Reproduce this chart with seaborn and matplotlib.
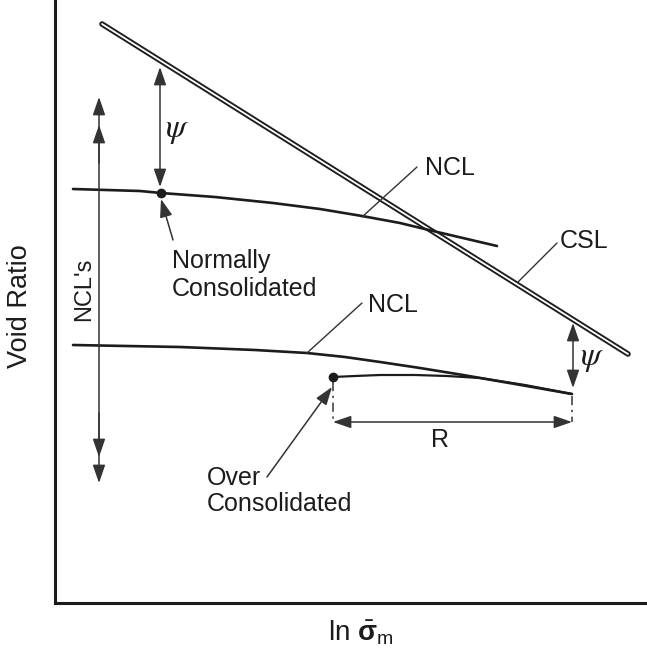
import matplotlib
matplotlib.use("Agg")
import matplotlib.pyplot as plt
import seaborn as sns
import numpy as np

# Schematic void ratio vs ln(mean effective stress) diagram (arbitrary units)
csl_x = [47, 573]
csl_y = [579, 249]

ncl_upper_x = [18, 85, 106, 160, 218, 265, 307, 345, 378, 442]
ncl_upper_y = [414, 412, 410, 406, 400, 394, 387, 380, 372, 357]

ncl_lower_x = [18, 125, 200, 252, 290, 325, 365, 408, 460, 517]
ncl_lower_y = [258, 256, 253, 250, 246, 241, 235, 228, 219, 209]

oc_x = [278, 300, 325, 360, 392, 425, 470, 517]
oc_y = [226, 227, 228, 228, 227, 225, 218, 209]

nc_point = (106, 410)
oc_point = (278, 226)

sns.set_theme(style="white")
plt.rcParams["font.family"] = ["Liberation Sans", "DejaVu Sans"]
plt.rcParams["mathtext.fontset"] = "custom"
plt.rcParams["mathtext.rm"] = "Liberation Sans"
plt.rcParams["mathtext.bf"] = "Liberation Sans:bold"
plt.rcParams["mathtext.it"] = "Liberation Sans:italic"

fig = plt.figure(figsize=(6.47, 6.63), dpi=100)
ax = fig.add_axes([55 / 647, 60 / 663, 592 / 647, 603 / 663])
ax.set_xlim(0, 592)
ax.set_ylim(0, 603)

INK = "#1c1c1c"
THIN = "#333333"

# critical state line drawn as a double line
sns.lineplot(x=csl_x, y=csl_y, ax=ax, color=INK, lw=4.0, sort=False, estimator=None)
sns.lineplot(x=csl_x, y=csl_y, ax=ax, color="white", lw=1.3, sort=False, estimator=None)

# normal consolidation lines and over-consolidated path
sns.lineplot(x=ncl_upper_x, y=ncl_upper_y, ax=ax, color=INK, lw=1.9, sort=False, estimator=None)
sns.lineplot(x=ncl_lower_x, y=ncl_lower_y, ax=ax, color=INK, lw=1.9, sort=False, estimator=None)
sns.lineplot(x=oc_x, y=oc_y, ax=ax, color=INK, lw=1.6, sort=False, estimator=None)

ax.plot(*nc_point, "o", color=INK, ms=6, zorder=5)
ax.plot(*oc_point, "o", color=INK, ms=6, zorder=5)


def arrow(tip, tail, style="-|>", color=THIN, lw=1.1):
    ax.annotate("", xy=tip, xytext=tail,
                arrowprops=dict(arrowstyle=f"{style},head_length=1.1,head_width=0.38",
                                color=color, lw=lw, shrinkA=0, shrinkB=0,
                                mutation_scale=10))


# psi: distance of the NCL below the CSL
arrow((105, 416), (105, 536), style="<|-|>")
arrow((518, 215), (518, 280), style="<|-|>")

# family of NCL's
arrow((44, 120), (44, 506), style="<|-|>")
arrow((44, 478), (44, 440))
arrow((44, 146), (44, 190))

# R: distance along the NCL
arrow((278, 181), (517, 181), style="<|-|>")
ax.plot([278, 278], [221, 181], color=THIN, lw=1.1, ls=(0, (6, 3, 1.5, 3)))
ax.plot([517, 517], [207, 181], color=THIN, lw=1.1, ls=(0, (6, 3, 1.5, 3)))

# pointer arrows and leader lines
arrow((106, 404), (118, 363))
arrow((277, 216), (212, 126))
ax.plot([307, 362], [386, 436], color=THIN, lw=1.0)
ax.plot([252, 307], [250, 300], color=THIN, lw=1.0)
ax.plot([463, 502], [321, 360], color=THIN, lw=1.0)

fs = 18
ax.text(370, 428, "NCL", fontsize=fs, color=INK, va="baseline", ha="left")
ax.text(313, 291, "NCL", fontsize=fs, color=INK, va="baseline", ha="left")
ax.text(505, 355, "CSL", fontsize=fs, color=INK, va="baseline", ha="left")
ax.text(385, 156, "R", fontsize=fs, color=INK, va="baseline", ha="center")
ax.text(117, 335, "Normally", fontsize=fs, color=INK, va="baseline", ha="left")
ax.text(117, 307, "Consolidated", fontsize=fs, color=INK, va="baseline", ha="left")
ax.text(152, 118, "Over", fontsize=fs, color=INK, va="baseline", ha="left")
ax.text(152, 92, "Consolidated", fontsize=fs, color=INK, va="baseline", ha="left")
ax.text(29, 314, "NCL's", fontsize=17, color=INK, rotation=90, va="center", ha="center")
ax.text(122, 472, r"$\psi$", fontsize=24, color=INK, va="center", ha="center",
        math_fontfamily="stix")
ax.text(537, 245, r"$\psi$", fontsize=24, color=INK, va="center", ha="center",
        math_fontfamily="stix")

ax.set_xticks([])
ax.set_yticks([])
for side in ("top", "right"):
    ax.spines[side].set_visible(False)
for side in ("left", "bottom"):
    ax.spines[side].set_color(INK)
    ax.spines[side].set_linewidth(2.2)

ax.set_ylabel("Void Ratio", fontsize=19.5, color=INK)
ax.yaxis.set_label_coords(-0.037, 0.4925)
ax.set_xlabel(r"ln $\bar{\mathbf{\sigma}}_{\mathrm{m}}$", fontsize=20, color=INK)
ax.xaxis.set_label_coords(0.517, -0.025)

fig.savefig("out.png", dpi=100, facecolor="white")
